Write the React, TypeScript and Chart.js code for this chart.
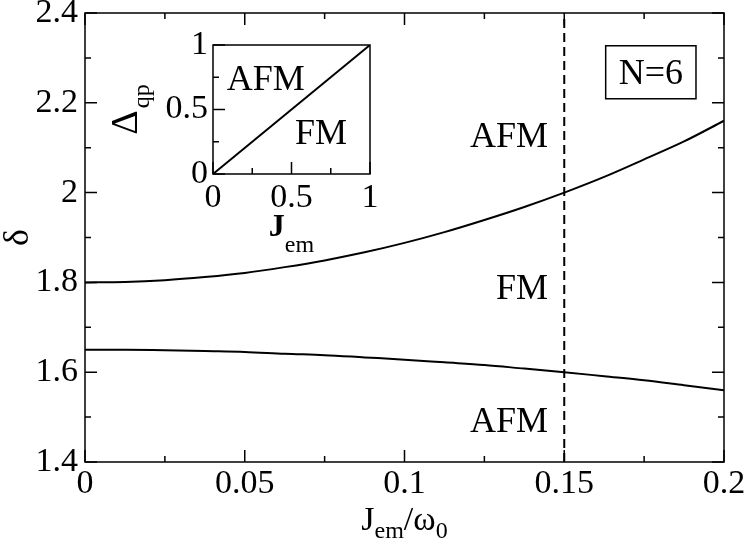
import React, { useEffect, useRef } from 'react';
import { Chart, registerables } from 'chart.js';

Chart.register(...registerables);

// ---- main panel data ----
const jem = [0, 0.0125, 0.025, 0.0375, 0.05, 0.0625, 0.075, 0.0875, 0.1, 0.1125, 0.125, 0.1375, 0.15, 0.1625, 0.175, 0.1875, 0.2];
const deltaUpper = [1.8, 1.801, 1.805, 1.812, 1.821, 1.834, 1.849, 1.867, 1.888, 1.912, 1.939, 1.968, 2.0, 2.035, 2.074, 2.114, 2.16];
const deltaLower = [1.65, 1.65, 1.649, 1.647, 1.645, 1.641, 1.638, 1.633, 1.628, 1.622, 1.616, 1.608, 1.6, 1.591, 1.582, 1.571, 1.56];
const boundaryX = 0.15;
const yRange = [1.4, 2.4];
const xRange = [0, 0.2];
const xMajorTicks = [0, 0.05, 0.1, 0.15, 0.2];
const xMinorTicks = [0.025, 0.075, 0.125, 0.175];
const xTickLabels = ['0', '0.05', '0.1', '0.15', '0.2'];
const yMajorTicks = [1.4, 1.6, 1.8, 2.0, 2.2, 2.4];
const yMinorTicks = [1.5, 1.7, 1.9, 2.1, 2.3];
const yTickLabels = ['1.4', '1.6', '1.8', '2', '2.2', '2.4'];
const phaseLabels = [
  { text: 'AFM', x: 0.1449, y: 2.127 },
  { text: 'FM', x: 0.1449, y: 1.789 },
  { text: 'AFM', x: 0.1449, y: 1.493 },
];
const systemLabel = { text: 'N=6', x: 0.1771, y: 2.268 };

// ---- inset data ----
const insetJem = [0, 1];
const insetDelta = [0, 1];
const insetMajorTicks = [0, 0.5, 1];
const insetMinorTicks = [0.25, 0.75];
const insetTickLabels = ['0', '0.5', '1'];
const insetLabels = [
  { text: 'AFM', x: 0.336, y: 0.744 },
  { text: 'FM', x: 0.688, y: 0.326 },
];

const SERIF = '"Liberation Serif", "Times New Roman", serif';
const TICK_FONT = 34;

function labelFor(values: number[], labels: string[], v: number) {
  const i = values.findIndex((t) => Math.abs(t - v) < 1e-9);
  return i >= 0 ? labels[i] : '';
}

function drawCapText(ctx: CanvasRenderingContext2D, text: string, x: number, cy: number, size: number, align: CanvasTextAlign) {
  ctx.font = `${size}px ${SERIF}`;
  ctx.textAlign = align;
  ctx.textBaseline = 'alphabetic';
  ctx.fillText(text, x, cy + size * 0.33);
}

const mainDecor = {
  id: 'mainDecor',
  afterDatasetsDraw(chart: any) {
    const { ctx, chartArea: a, scales } = chart;
    const x = scales.x;
    const y = scales.y;
    ctx.save();
    ctx.strokeStyle = '#000';
    ctx.fillStyle = '#000';
    ctx.lineWidth = 1.5;
    ctx.strokeRect(a.left, a.top, a.right - a.left, a.bottom - a.top);
    const xt = (vals: number[], len: number) => {
      vals.forEach((v) => {
        const p = x.getPixelForValue(v);
        ctx.beginPath();
        ctx.moveTo(p, a.bottom);
        ctx.lineTo(p, a.bottom - len);
        ctx.moveTo(p, a.top);
        ctx.lineTo(p, a.top + len);
        ctx.stroke();
      });
    };
    const yt = (vals: number[], len: number) => {
      vals.forEach((v) => {
        const p = y.getPixelForValue(v);
        ctx.beginPath();
        ctx.moveTo(a.left, p);
        ctx.lineTo(a.left + len, p);
        ctx.moveTo(a.right, p);
        ctx.lineTo(a.right - len, p);
        ctx.stroke();
      });
    };
    xt(xMajorTicks, 12);
    xt(xMinorTicks, 6);
    yt(yMajorTicks, 12);
    yt(yMinorTicks, 6);

    phaseLabels.forEach((l) => {
      drawCapText(ctx, l.text, x.getPixelForValue(l.x), y.getPixelForValue(l.y), 36, 'right');
    });

    // N=6 box
    const cx = x.getPixelForValue(systemLabel.x);
    const cy = y.getPixelForValue(systemLabel.y);
    ctx.font = `36px ${SERIF}`;
    const tw = ctx.measureText(systemLabel.text).width;
    const bw = tw + 26;
    const bh = 53;
    ctx.lineWidth = 1.5;
    ctx.strokeRect(cx - bw / 2, cy - bh / 2, bw, bh);
    drawCapText(ctx, systemLabel.text, cx, cy, 36, 'center');

    // x axis title: J_em / ω_0
    const F = 34;
    const S = 24;
    const mainFont = `${F}px ${SERIF}`;
    const subFont = `${S}px ${SERIF}`;
    ctx.textAlign = 'left';
    ctx.textBaseline = 'alphabetic';
    const parts: [string, boolean][] = [['J', false], ['em', true], ['/ω', false], ['0', true]];
    let total = 0;
    const widths = parts.map(([t, sub]) => {
      ctx.font = sub ? subFont : mainFont;
      const w = ctx.measureText(t).width;
      total += w;
      return w;
    });
    let px = (a.left + a.right) / 2 - total / 2;
    const base = a.bottom + 68;
    parts.forEach(([t, sub], i) => {
      ctx.font = sub ? subFont : mainFont;
      ctx.fillText(t, px, sub ? base + 8 : base);
      px += widths[i];
    });

    // y axis title: δ
    ctx.save();
    ctx.translate(28, (a.top + a.bottom) / 2);
    ctx.rotate(-Math.PI / 2);
    ctx.font = `36px ${SERIF}`;
    ctx.textAlign = 'center';
    ctx.textBaseline = 'alphabetic';
    ctx.fillText('δ', 0, 0);
    ctx.restore();
    ctx.restore();
  },
};

const insetDecor = {
  id: 'insetDecor',
  afterDatasetsDraw(chart: any) {
    const { ctx, chartArea: a, scales } = chart;
    const x = scales.x;
    const y = scales.y;
    ctx.save();
    ctx.strokeStyle = '#000';
    ctx.fillStyle = '#000';
    ctx.lineWidth = 1.5;
    ctx.strokeRect(a.left, a.top, a.right - a.left, a.bottom - a.top);
    const ticks = (vals: number[], len: number) => {
      vals.forEach((v) => {
        const p = x.getPixelForValue(v);
        ctx.beginPath();
        ctx.moveTo(p, a.bottom);
        ctx.lineTo(p, a.bottom - len);
        ctx.stroke();
        const q = y.getPixelForValue(v);
        ctx.beginPath();
        ctx.moveTo(a.left, q);
        ctx.lineTo(a.left + len, q);
        ctx.stroke();
      });
    };
    ticks(insetMajorTicks, 12);
    ticks(insetMinorTicks, 6);

    insetLabels.forEach((l) => {
      drawCapText(ctx, l.text, x.getPixelForValue(l.x), y.getPixelForValue(l.y), 36, 'center');
    });

    // x title J_em
    ctx.textAlign = 'left';
    ctx.textBaseline = 'alphabetic';
    ctx.font = `bold 32px ${SERIF}`;
    const wJ = ctx.measureText('J').width;
    ctx.font = `24px ${SERIF}`;
    const wEm = ctx.measureText('em').width;
    let px = (a.left + a.right) / 2 - (wJ + wEm) / 2;
    const base = a.bottom + 62;
    ctx.font = `bold 32px ${SERIF}`;
    ctx.fillText('J', px, base);
    px += wJ;
    ctx.font = `24px ${SERIF}`;
    ctx.fillText('em', px, base + 16);

    // y title Δ_qp (rotated)
    ctx.save();
    ctx.translate(a.left - 76, (a.top + a.bottom) / 2);
    ctx.rotate(-Math.PI / 2);
    ctx.font = `38px ${SERIF}`;
    const wD = ctx.measureText('Δ').width;
    ctx.font = `24px ${SERIF}`;
    const wQ = ctx.measureText('qp').width;
    let qx = -(wD + wQ + 2) / 2;
    ctx.font = `38px ${SERIF}`;
    ctx.fillText('Δ', qx, 0);
    qx += wD + 2;
    ctx.font = `24px ${SERIF}`;
    ctx.fillText('qp', qx, 12);
    ctx.restore();
    ctx.restore();
  },
};

function MainChart() {
  const ref = useRef<HTMLCanvasElement>(null);
  useEffect(() => {
    if (!ref.current) return;
    const chart = new Chart(ref.current, {
      type: 'line',
      data: {
        datasets: [
          {
            data: jem.map((v, i) => ({ x: v, y: deltaUpper[i] })),
            borderColor: '#000',
            borderWidth: 2,
            pointRadius: 0,
            cubicInterpolationMode: 'monotone',
          },
          {
            data: jem.map((v, i) => ({ x: v, y: deltaLower[i] })),
            borderColor: '#000',
            borderWidth: 2,
            pointRadius: 0,
            cubicInterpolationMode: 'monotone',
          },
          {
            data: [
              { x: boundaryX, y: yRange[0] },
              { x: boundaryX, y: yRange[1] },
            ],
            borderColor: '#000',
            borderWidth: 2,
            borderDash: [9, 5],
            pointRadius: 0,
          },
        ],
      },
      options: {
        animation: false,
        responsive: false,
        devicePixelRatio: 1,
        layout: { padding: { top: 13, right: 23, left: 0, bottom: 0 } },
        plugins: { legend: { display: false }, tooltip: { enabled: false } },
        events: [],
        scales: {
          x: {
            type: 'linear',
            min: xRange[0],
            max: xRange[1],
            grid: { display: false, drawTicks: false },
            border: { display: false },
            afterBuildTicks: (s: any) => {
              s.ticks = xMajorTicks.map((v) => ({ value: v }));
            },
            afterFit: (s: any) => {
              s.height = 79;
              s.paddingLeft = 0;
              s.paddingRight = 0;
            },
            ticks: {
              autoSkip: false,
              maxRotation: 0,
              padding: 2,
              color: '#000',
              font: { family: SERIF, size: TICK_FONT },
              callback: (v: any) => labelFor(xMajorTicks, xTickLabels, Number(v)),
            },
          },
          y: {
            type: 'linear',
            min: yRange[0],
            max: yRange[1],
            grid: { display: false, drawTicks: false },
            border: { display: false },
            afterBuildTicks: (s: any) => {
              s.ticks = yMajorTicks.map((v) => ({ value: v }));
            },
            afterFit: (s: any) => {
              s.width = 85;
              s.paddingTop = 0;
              s.paddingBottom = 0;
            },
            ticks: {
              autoSkip: false,
              padding: 7,
              color: '#000',
              font: { family: SERIF, size: TICK_FONT },
              callback: (v: any) => labelFor(yMajorTicks, yTickLabels, Number(v)),
            },
          },
        },
      },
      plugins: [mainDecor],
    } as any);
    return () => chart.destroy();
  }, []);
  return (
    <canvas
      ref={ref}
      width={747}
      height={541}
      style={{ position: 'absolute', left: 0, top: 0, width: 747, height: 541 }}
    />
  );
}

function InsetChart() {
  const ref = useRef<HTMLCanvasElement>(null);
  useEffect(() => {
    if (!ref.current) return;
    const chart = new Chart(ref.current, {
      type: 'line',
      data: {
        datasets: [
          {
            data: insetJem.map((v, i) => ({ x: v, y: insetDelta[i] })),
            borderColor: '#000',
            borderWidth: 2,
            pointRadius: 0,
          },
        ],
      },
      options: {
        animation: false,
        responsive: false,
        devicePixelRatio: 1,
        layout: { padding: { top: 15, right: 20, left: 0, bottom: 0 } },
        plugins: { legend: { display: false }, tooltip: { enabled: false } },
        events: [],
        scales: {
          x: {
            type: 'linear',
            min: 0,
            max: 1,
            grid: { display: false, drawTicks: false },
            border: { display: false },
            afterBuildTicks: (s: any) => {
              s.ticks = insetMajorTicks.map((v) => ({ value: v }));
            },
            afterFit: (s: any) => {
              s.height = 96;
              s.paddingLeft = 0;
              s.paddingRight = 0;
            },
            ticks: {
              autoSkip: false,
              maxRotation: 0,
              padding: 4,
              color: '#000',
              font: { family: SERIF, size: TICK_FONT },
              callback: (v: any) => labelFor(insetMajorTicks, insetTickLabels, Number(v)),
            },
          },
          y: {
            type: 'linear',
            min: 0,
            max: 1,
            grid: { display: false, drawTicks: false },
            border: { display: false },
            afterBuildTicks: (s: any) => {
              s.ticks = insetMajorTicks.map((v) => ({ value: v }));
            },
            afterFit: (s: any) => {
              s.width = 113;
              s.paddingTop = 0;
              s.paddingBottom = 0;
            },
            ticks: {
              autoSkip: false,
              padding: 5,
              color: '#000',
              font: { family: SERIF, size: TICK_FONT },
              callback: (v: any) => labelFor(insetMajorTicks, insetTickLabels, Number(v)),
            },
          },
        },
      },
      plugins: [insetDecor],
    } as any);
    return () => chart.destroy();
  }, []);
  return (
    <canvas
      ref={ref}
      width={290}
      height={240}
      style={{ position: 'absolute', left: 100, top: 30, width: 290, height: 240 }}
    />
  );
}

export default function App() {
  return (
    <div style={{ position: 'absolute', left: 0, top: 0, width: 747, height: 541, background: '#fff' }}>
      <MainChart />
      <InsetChart />
    </div>
  );
}
